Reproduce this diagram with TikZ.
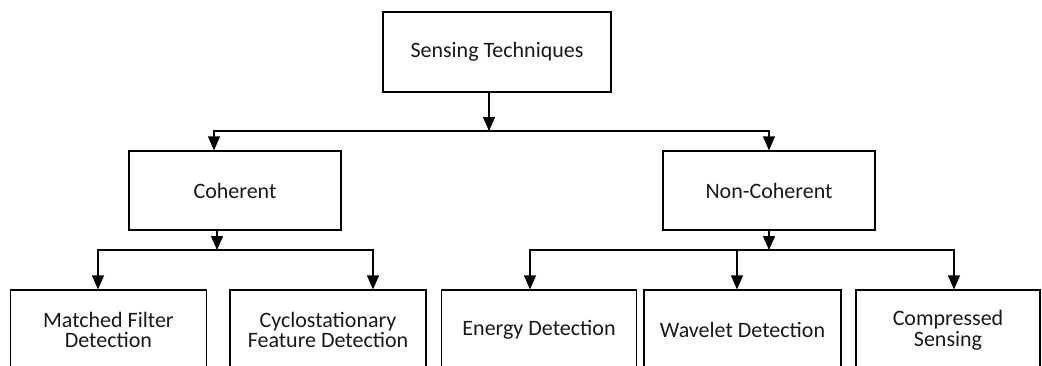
\documentclass[tikz,border=0pt]{standalone}
\usepackage{fontspec}
\setmainfont{Carlito}
\usetikzlibrary{arrows.meta,positioning}
\tikzset{
  box/.style={draw=black, line width=1.2pt, rectangle, align=center, inner sep=0pt,
    text=black!90, font=\fontsize{22}{20.5}\selectfont},
  arr/.style={line width=1.2pt, draw=black, -{Triangle[length=14pt,width=12pt]}},
}
\begin{document}
\begin{tikzpicture}[x=1pt,y=-1pt]
\useasboundingbox (0,0) rectangle (1042,365);
\clip (0,0) rectangle (1042,365);
\node[box, minimum width=228, minimum height=80] (top) at (497,52) {Sensing Techniques};
\node[box, minimum width=212, minimum height=79] (coh) at (235,190.5) {Coherent};
\node[box, minimum width=212, minimum height=79] (nc) at (769,190.5) {Non-Coherent};
\node[box, minimum width=195.5, minimum height=80] (mf) at (108.4,330) {Matched Filter\\Detection};
\node[box, minimum width=196, minimum height=80] (cf) at (328,330) {Cyclostationary\\Feature Detection};
\node[box, minimum width=195, minimum height=80] (ed) at (539,330) {Energy Detection};
\node[box, minimum width=197, minimum height=80] (wd) at (742.5,330) {Wavelet Detection};
\node[box, minimum width=184, minimum height=80] (cs) at (948,330) {Compressed\\Sensing};
\coordinate (j1) at (489,131);
\coordinate (j2) at (217,250);
\coordinate (j3) at (769,250);
\draw[arr] ([xshift=-8pt]top.south) -- (j1);
\draw[arr] (j1) -| ([xshift=-21pt]coh.north);
\draw[arr] (j1) -| (nc.north);
\draw[arr] ([xshift=-18pt]coh.south) -- (j2);
\draw[arr] (j2) -| ([xshift=-10.4pt]mf.north);
\draw[arr] (j2) -| ([xshift=45pt]cf.north);
\draw[arr] (nc.south) -- (j3);
\draw[arr] (j3) -| ([xshift=-9pt]ed.north);
\draw[arr] (j3) -| ([xshift=-5.5pt]wd.north);
\draw[arr] (j3) -| ([xshift=6pt]cs.north);
\end{tikzpicture}
\end{document}
